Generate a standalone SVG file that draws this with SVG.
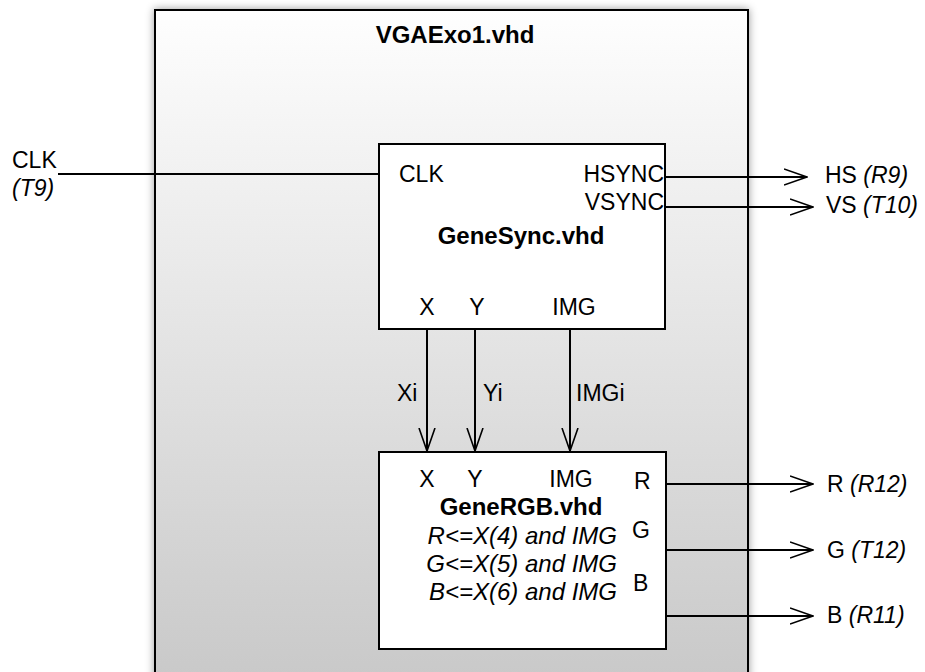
<svg xmlns="http://www.w3.org/2000/svg" width="925" height="672" viewBox="0 0 925 672">
<defs>
<linearGradient id="bg" x1="0" y1="0" x2="0" y2="1">
<stop offset="0" stop-color="#fefefe"/>
<stop offset="1" stop-color="#c8c8c8"/>
</linearGradient>
<filter id="sh" x="-5%" y="-5%" width="110%" height="110%">
<feDropShadow dx="0" dy="0" stdDeviation="4" flood-color="#000" flood-opacity="0.4"/>
</filter>
<marker id="ah" viewBox="0 0 24 18" refX="23" refY="9" markerWidth="24" markerHeight="18" markerUnits="userSpaceOnUse" orient="auto">
<path d="M0,1 L23,9 L0,17" fill="none" stroke="#000" stroke-width="1.6"/>
</marker>
<style>
text{font-family:"Liberation Sans",Arial,sans-serif;font-size:23px;fill:#000}
.b{font-weight:bold;font-size:24px}
.i{font-style:italic}
.f{font-size:24px}
.m{text-anchor:middle}
.e{text-anchor:end}
.box{fill:#fff;stroke:#000;stroke-width:2}
.w{fill:none;stroke:#000;stroke-width:2}
.a{fill:none;stroke:#000;stroke-width:2;marker-end:url(#ah)}
</style>
</defs>
<g id="VGAExo1">
<rect x="155" y="10" width="593" height="680" fill="url(#bg)" stroke="#000" stroke-width="2" filter="url(#sh)"/>
<text class="b m" x="455" y="43">VGAExo1.vhd</text>
</g>
<g id="GeneSync">
<rect class="box" x="379" y="144" width="286" height="185"/>
<text x="399" y="182">CLK</text>
<text class="e" x="664" y="182">HSYNC</text>
<text class="e" x="664" y="210">VSYNC</text>
<text class="b m" x="521" y="244">GeneSync.vhd</text>
<text class="m" x="427" y="315">X</text>
<text class="m" x="477" y="315">Y</text>
<text class="m" x="574" y="315">IMG</text>
</g>
<g id="GeneRGB">
<rect class="box" x="379" y="452" width="287" height="197"/>
<text class="m" x="427" y="487">X</text>
<text class="m" x="475" y="487">Y</text>
<text class="m" x="571" y="487">IMG</text>
<text x="634" y="489">R</text>
<text x="632" y="538">G</text>
<text x="633" y="591">B</text>
<text class="b m" x="521" y="515">GeneRGB.vhd</text>
<text class="i f e" x="617" y="544">R&lt;=X(4) and IMG</text>
<text class="i f e" x="617" y="572">G&lt;=X(5) and IMG</text>
<text class="i f e" x="617" y="600">B&lt;=X(6) and IMG</text>
</g>
<g id="pins">
<text x="12" y="168">CLK</text>
<text class="i" x="12" y="196">(T9)</text>
<text x="825" y="183">HS <tspan class="i">(R9)</tspan></text>
<text x="826" y="213">VS <tspan class="i">(T10)</tspan></text>
<text x="827" y="492">R <tspan class="i">(R12)</tspan></text>
<text x="827" y="558">G <tspan class="i">(T12)</tspan></text>
<text x="827" y="623">B <tspan class="i">(R11)</tspan></text>
</g>
<g id="connectors">
<path class="w" d="M58,174 L379,174"/>
<path class="a" d="M665,177 L807,177"/>
<path class="a" d="M665,207 L813,207"/>
<path class="a" d="M427,329 L427,451"/>
<path class="a" d="M475,329 L475,451"/>
<path class="a" d="M570,329 L570,451"/>
<path class="a" d="M666,484 L813,484"/>
<path class="a" d="M666,550 L813,550"/>
<path class="a" d="M666,616 L813,616"/>
<text x="397" y="401">Xi</text>
<text x="483" y="401">Yi</text>
<text x="576" y="401">IMGi</text>
</g>
</svg>
